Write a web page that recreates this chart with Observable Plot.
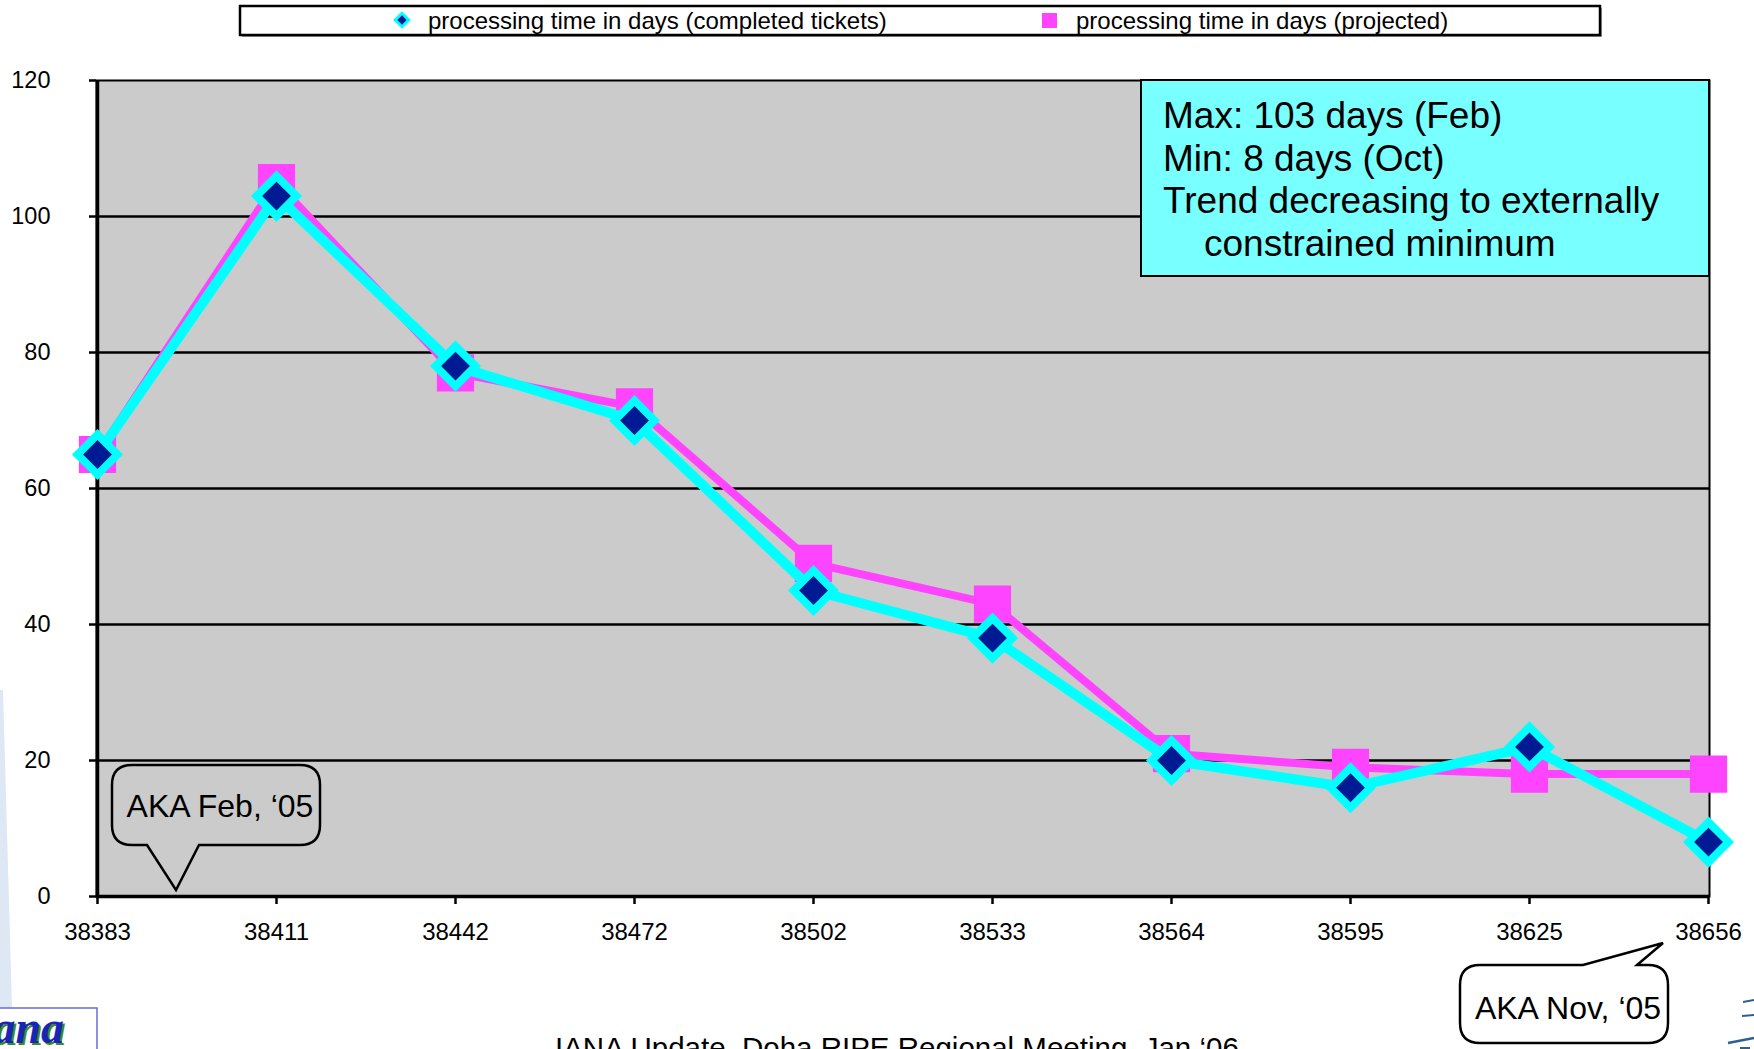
<!DOCTYPE html>
<html>
<head>
<meta charset="utf-8">
<script src="https://cdn.jsdelivr.net/npm/d3@7"></script>
<script src="https://cdn.jsdelivr.net/npm/@observablehq/plot@0.6"></script>
<style>
  html, body { margin: 0; padding: 0; background: white; overflow: hidden; }
  #chart svg { display: block; overflow: hidden; }
</style>
</head>
<body>
<div id="chart"></div>
<script>
// ---- data ----
const categories = ["38383","38411","38442","38472","38502","38533","38564","38595","38625","38656"];
const completed  = [65, 103, 78, 70, 45, 38, 20, 16, 22, 8];
const projected  = [65, 105, 77, 72, 49, 43, 21, 19, 18, 18];
const yTicks = [0, 20, 40, 60, 80, 100, 120];
const gridValues = [20, 40, 60, 80, 100];
const seriesNames = ["processing time in days (completed tickets)", "processing time in days (projected)"];
const noteLines = ["Max: 103 days (Feb)", "Min: 8 days (Oct)", "Trend decreasing to externally", "constrained minimum"];
const calloutFeb = "AKA Feb, \u201805";
const calloutNov = "AKA Nov, \u201805";
const footer = "IANA Update, Doha RIPE Regional Meeting, Jan \u201806";

const rows = categories.map((c, i) => ({month: c, completed: completed[i], projected: projected[i]}));

const MAGENTA = "#ff44ff", CYAN = "#00ffff", NAVY = "#001a94";
const FONT = "'Liberation Sans', Arial, sans-serif";

const plot = Plot.plot({
  width: 1754,
  height: 1049,
  marginLeft: 96,
  marginRight: 45,
  marginTop: 80,
  marginBottom: 153,
  style: {fontFamily: FONT, fontSize: "23px", color: "black", background: "white"},
  x: {type: "point", domain: categories, padding: 0},
  y: {domain: [0, 120]},
  marks: [
    Plot.frame({fill: "#cbcbcb"}),
    Plot.ruleY(gridValues, {stroke: "black", strokeWidth: 2.5}),
    Plot.frame({stroke: "black", strokeWidth: 2}),
    Plot.ruleY([0], {stroke: "black", strokeWidth: 3.5}),
    Plot.ruleX([categories[0]], {stroke: "black", strokeWidth: 3.5}),
    Plot.axisY({ticks: yTicks, tickSize: 7, tickPadding: 39, fontSize: 23.5, strokeWidth: 2.5, label: null}),
    Plot.axisX({tickSize: 8, tickPadding: 18, fontSize: 24, strokeWidth: 2.5, label: null}),
    Plot.line(rows, {x: "month", y: "projected", stroke: MAGENTA, strokeWidth: 8, strokeLinejoin: "miter", strokeLinecap: "butt"}),
    Plot.dot(rows, {x: "month", y: "projected", symbol: "square", r: 21, fill: MAGENTA}),
    Plot.line(rows, {x: "month", y: "completed", stroke: CYAN, strokeWidth: 10, strokeLinejoin: "miter", strokeLinecap: "butt"}),
    Plot.dot(rows, {x: "month", y: "completed", symbol: "diamond2", r: 23, fill: CYAN}),
    Plot.dot(rows, {x: "month", y: "completed", symbol: "diamond2", r: 13, fill: NAVY})
  ]
});

document.getElementById("chart").appendChild(plot);

const svg = d3.select(plot);
const deco = svg.append("g").attr("text-anchor", "start");

// background decorations (slide)
deco.append("polygon")
  .attr("points", "0,690 3,690 12,1008 0,1008")
  .attr("fill", "#dde8f4");

// legend
const lg = deco.append("g");
lg.append("rect").attr("x", 242).attr("y", 8).attr("width", 1360).attr("height", 29).attr("fill", "#9a9a9a");
lg.append("rect").attr("x", 240).attr("y", 6).attr("width", 1360).attr("height", 29)
  .attr("fill", "white").attr("stroke", "black").attr("stroke-width", 2.5);
lg.append("path").attr("d", d3.symbol(d3.symbolDiamond2, 200)()).attr("transform", "translate(402,20)").attr("fill", CYAN);
lg.append("path").attr("d", d3.symbol(d3.symbolDiamond2, 55)()).attr("transform", "translate(402,20)").attr("fill", NAVY);
lg.append("rect").attr("x", 1042).attr("y", 13).attr("width", 15).attr("height", 15).attr("fill", MAGENTA);
lg.append("text").attr("x", 428).attr("y", 28.5).attr("text-anchor", "start").attr("font-family", FONT).attr("font-size", 24).attr("fill", "black").text(seriesNames[0]);
lg.append("text").attr("x", 1076).attr("y", 28.5).attr("text-anchor", "start").attr("font-family", FONT).attr("font-size", 24).attr("fill", "black").text(seriesNames[1]);

// note box
const nb = deco.append("g");
nb.append("rect").attr("x", 1141).attr("y", 80).attr("width", 568).attr("height", 196)
  .attr("fill", "#78ffff").attr("stroke", "black").attr("stroke-width", 2);
const noteX = [1163, 1163, 1163, 1204];
noteLines.forEach((t, i) => {
  nb.append("text").attr("x", noteX[i]).attr("y", 128 + i * 42.5).attr("text-anchor", "start")
    .attr("font-family", FONT).attr("font-size", 37).attr("fill", "black").text(t);
});

// callout Feb
const r = 20;
const feb = d3.path();
feb.moveTo(112 + r, 765);
feb.lineTo(320 - r, 765);
feb.quadraticCurveTo(320, 765, 320, 765 + r);
feb.lineTo(320, 845 - r);
feb.quadraticCurveTo(320, 845, 320 - r, 845);
feb.lineTo(199, 845);
feb.lineTo(176, 890);
feb.lineTo(147, 845);
feb.lineTo(112 + r, 845);
feb.quadraticCurveTo(112, 845, 112, 845 - r);
feb.lineTo(112, 765 + r);
feb.quadraticCurveTo(112, 765, 112 + r, 765);
feb.closePath();
deco.append("path").attr("d", feb.toString()).attr("fill", "none").attr("stroke", "black").attr("stroke-width", 2.5);
deco.append("text").attr("x", 220).attr("y", 817).attr("text-anchor", "middle")
  .attr("font-family", FONT).attr("font-size", 32).attr("fill", "black").text(calloutFeb);

// callout Nov
const nov = d3.path();
nov.moveTo(1460 + r, 965);
nov.lineTo(1583, 965);
nov.lineTo(1663, 943);
nov.lineTo(1637, 965);
nov.lineTo(1668 - r, 965);
nov.quadraticCurveTo(1668, 965, 1668, 965 + r);
nov.lineTo(1668, 1043 - r);
nov.quadraticCurveTo(1668, 1043, 1668 - r, 1043);
nov.lineTo(1460 + r, 1043);
nov.quadraticCurveTo(1460, 1043, 1460, 1043 - r);
nov.lineTo(1460, 965 + r);
nov.quadraticCurveTo(1460, 965, 1460 + r, 965);
nov.closePath();
deco.append("path").attr("d", nov.toString()).attr("fill", "white").attr("stroke", "black").attr("stroke-width", 2.5);
deco.append("text").attr("x", 1568).attr("y", 1019).attr("text-anchor", "middle")
  .attr("font-family", FONT).attr("font-size", 32).attr("fill", "black").text(calloutNov);

// footer
deco.append("text").attr("x", 555).attr("y", 1058).attr("text-anchor", "start")
  .attr("font-family", FONT).attr("font-size", 29.5).attr("fill", "black").text(footer);

// logo
deco.append("rect").attr("x", -2).attr("y", 1008).attr("width", 99).attr("height", 60)
  .attr("fill", "white").attr("stroke", "#6b6bd9").attr("stroke-width", 1.5);
deco.append("text").attr("x", 66).attr("y", 1045).attr("text-anchor", "end")
  .attr("font-family", "'Liberation Serif', serif").attr("font-style", "italic").attr("font-weight", "bold")
  .attr("font-size", 46).attr("fill", "#3d8a2a").text("iana");
deco.append("text").attr("x", 64).attr("y", 1043).attr("text-anchor", "end")
  .attr("font-family", "'Liberation Serif', serif").attr("font-style", "italic").attr("font-weight", "bold")
  .attr("font-size", 46).attr("fill", "#1626b8").text("iana");

// right-side swooshes
[["M1743,1002 L1754,1000", 2], ["M1742,1016 L1754,1015", 2], ["M1728,1043 L1754,1038", 2.5], ["M1740,1048 L1750,1048", 2]]
  .forEach(([d, w]) => deco.append("path").attr("d", d).attr("stroke", "#2f5f8f").attr("stroke-width", w).attr("fill", "none"));
</script>
</body>
</html>
